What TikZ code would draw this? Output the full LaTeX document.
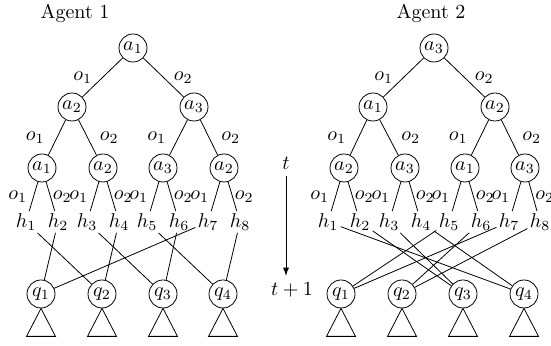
\documentclass[tikz,border=0pt]{standalone}
\usetikzlibrary{positioning}

\tikzset{
  act/.style={draw, circle, inner sep=0.5pt, minimum size=14pt},
  hist/.style={inner sep=1pt},
  olab/.style={inner sep=1pt},
}

\begin{document}
\begin{tikzpicture}[x=0.5pt, y=-0.5pt]
    \useasboundingbox (0,0) rectangle (551,346);
    % agent 1
    \node (title1) at (75,13) {Agent 1};
    \node[act] (A) at (133,48) {$a_1$};
    \node[act] (A1) at (72,107) {$a_2$};
    \node[act] (A2) at (194,107) {$a_3$};
    \node[act] (A11) at (42,168) {$a_1$};
    \node[act] (A12) at (103,168) {$a_2$};
    \node[act] (A21) at (163,168) {$a_3$};
    \node[act] (A22) at (224,168) {$a_2$};
    \draw (A) -- node[olab, left=4pt] {$o_1$} (A1);
    \draw (A) -- node[olab, right=4pt] {$o_2$} (A2);
    \draw (A1) -- node[olab, left=5pt] {$o_1$} (A11);
    \draw (A1) -- node[olab, right=5pt] {$o_2$} (A12);
    \draw (A2) -- node[olab, left=5pt] {$o_1$} (A21);
    \draw (A2) -- node[olab, right=5pt] {$o_2$} (A22);
    \foreach \i/\x in {1/26,2/58,3/87,4/119,5/147,6/179,7/208,8/240}
        \node[hist] (Ah\i) at (\x,222) {$h_\i$};
    \foreach \p/\l/\r in {A11/1/2, A12/3/4, A21/5/6, A22/7/8} {
        \draw (\p) -- node[olab, left=2pt] {$o_1$} (Ah\l);
        \draw (\p) -- node[olab, right=0pt] {$o_2$} (Ah\r);
    }
    \foreach \i/\x in {1/41,2/102,3/163,4/223}
        \node[act] (Aq\i) at (\x,294) {$q_\i$};
    \foreach \h/\q in {1/2,2/1,3/3,4/2,5/4,6/3,7/1,8/4}
        \draw (Ah\h) -- (Aq\q);
    \foreach \i in {1,...,4}
        \draw (Aq\i.south) -- ++(-14.5,28) -- ++(29,0) -- cycle;

    % time
    \node (t) at (286,163) {$t$};
    \node (tp) at (292,290) {$t+1$};
    \draw[-latex] (t.south) -- (t.south |- tp.north);

    % agent 2
    \node (title2) at (431,13) {Agent 2};
    \node[act] (B) at (434,48) {$a_3$};
    \node[act] (B1) at (373,107) {$a_1$};
    \node[act] (B2) at (495,107) {$a_2$};
    \node[act] (B11) at (344,168) {$a_2$};
    \node[act] (B12) at (405,168) {$a_3$};
    \node[act] (B21) at (465,168) {$a_1$};
    \node[act] (B22) at (525,168) {$a_3$};
    \draw (B) -- node[olab, left=4pt] {$o_1$} (B1);
    \draw (B) -- node[olab, right=4pt] {$o_2$} (B2);
    \draw (B1) -- node[olab, left=5pt] {$o_1$} (B11);
    \draw (B1) -- node[olab, right=5pt] {$o_2$} (B12);
    \draw (B2) -- node[olab, left=5pt] {$o_1$} (B21);
    \draw (B2) -- node[olab, right=5pt] {$o_2$} (B22);
    \foreach \i/\x in {1/328,2/360,3/389,4/421,5/449,6/481,7/509,8/540}
        \node[hist] (Bh\i) at (\x,222) {$h_\i$};
    \foreach \p/\l/\r in {B11/1/2, B12/3/4, B21/5/6, B22/7/8} {
        \draw (\p) -- node[olab, left=2pt] {$o_1$} (Bh\l);
        \draw (\p) -- node[olab, right=0pt] {$o_2$} (Bh\r);
    }
    \foreach \i/\x in {1/341,2/402,3/463,4/524}
        \node[act] (Bq\i) at (\x,294) {$q_\i$};
    \foreach \h/\q in {1/4,2/3,3/3,4/4,5/1,6/2,7/1,8/2}
        \draw (Bh\h) -- (Bq\q);
    \foreach \i in {1,...,4}
        \draw (Bq\i.south) -- ++(-14.5,28) -- ++(29,0) -- cycle;
\end{tikzpicture}
\end{document}
